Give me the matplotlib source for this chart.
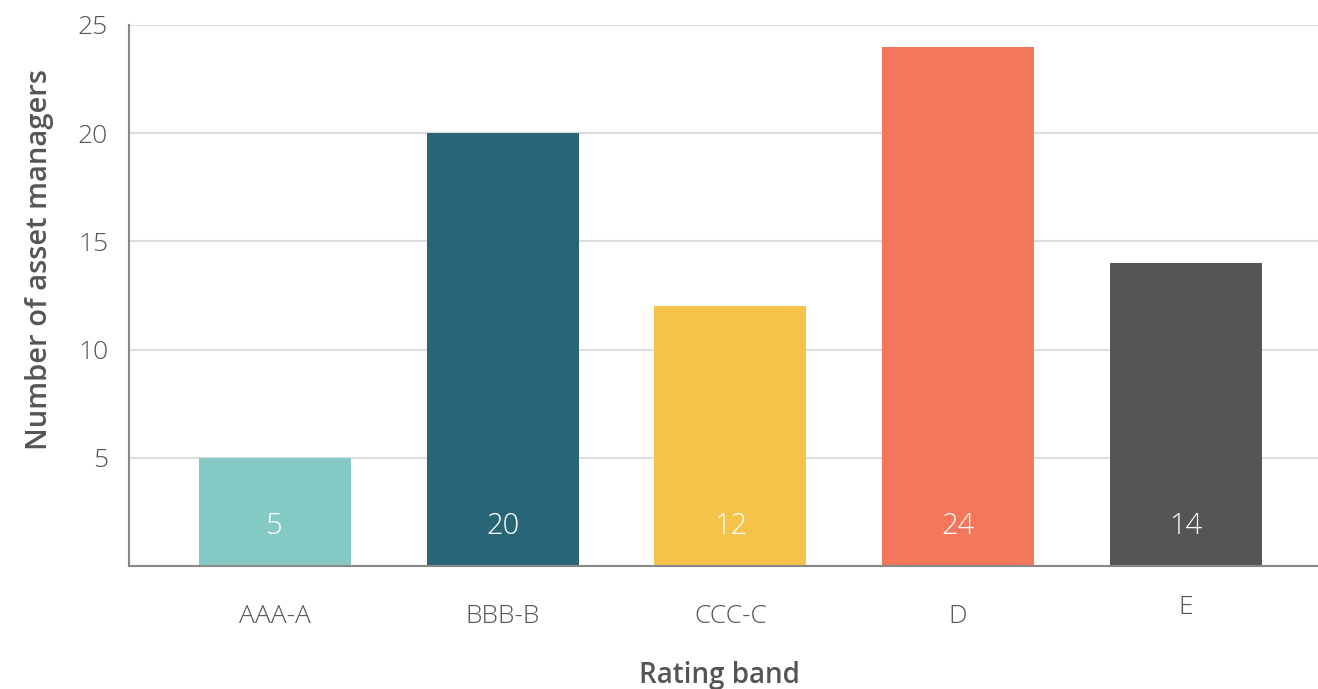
import matplotlib
matplotlib.use("Agg")
import matplotlib.pyplot as plt

# data
BANDS = ['AAA-A', 'BBB-B', 'CCC-C', 'D', 'E']
COUNTS = [5, 20, 12, 24, 14]
COLORS = ['#84C9C4', '#286577', '#F5C34A', '#F4765B', '#555555']
Y_TICKS = [5, 10, 15, 20, 25]

plt.rcParams['font.family'] = ['Open Sans', 'DejaVu Sans']

fig = plt.figure(figsize=(13.18, 6.89), dpi=100)
ax = fig.add_axes([129 / 1318, 123 / 689, 1 - 129 / 1318, 541 / 689])

x = range(len(BANDS))
ax.bar(x, COUNTS, width=0.667, color=COLORS, zorder=2)

# value labels near the base of each bar
for xi, v in zip(x, COUNTS):
    ax.text(xi, 1.85, str(v), ha='center', va='center', color='white',
            fontsize=21, fontweight='light')

ax.set_xlim(-0.64, 4.58)
ax.set_ylim(0, 25)
ax.set_yticks(Y_TICKS)
ax.set_xticks(list(x))
ax.set_xticklabels(BANDS)
ax.tick_params(axis='both', length=0, labelsize=19, labelcolor='#555555')
ax.tick_params(axis='y', pad=15)
ax.tick_params(axis='x', pad=27.5)
for lab in ax.get_yticklabels() + ax.get_xticklabels():
    lab.set_fontweight('light')
# the last category label sits a little higher in the original
ax.get_xticklabels()[-1].set_y(0.017)

ax.grid(axis='y', color='#DDDDDD', linewidth=1.5, zorder=0)
ax.set_axisbelow(True)
for side in ['top', 'right']:
    ax.spines[side].set_visible(False)
for side in ['left', 'bottom']:
    ax.spines[side].set_color('#888888')
    ax.spines[side].set_linewidth(1.5)

ax.set_ylabel('Number of asset managers', fontsize=21, fontweight='semibold',
              color='#555555')
ax.yaxis.set_label_coords(-0.063, 0.567)
ax.set_xlabel('Rating band', fontsize=20, fontweight='semibold',
              color='#555555')
ax.xaxis.set_label_coords(0.497, -0.2163)
ax.xaxis.label.set_verticalalignment('baseline')

fig.savefig('out.png', dpi=100)
